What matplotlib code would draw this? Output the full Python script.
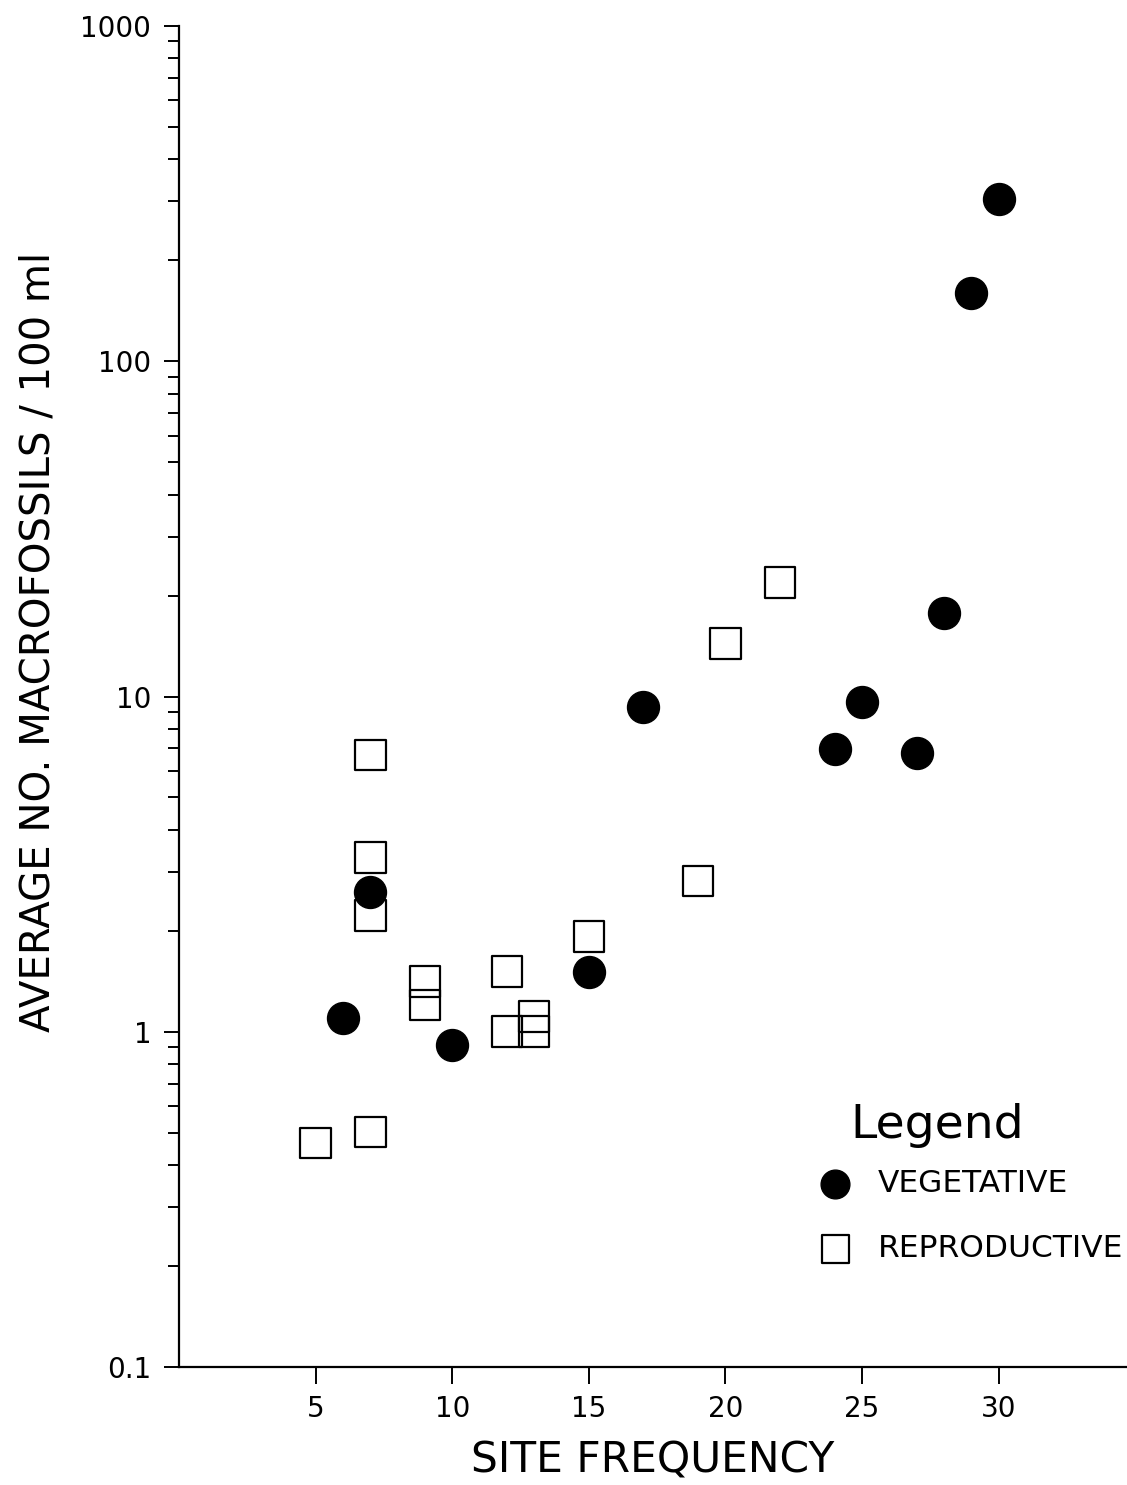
import matplotlib
matplotlib.use("Agg")
import matplotlib.pyplot as plt
from matplotlib.ticker import LogLocator, FixedLocator, FixedFormatter, NullFormatter

plt.rcParams['font.family'] = ['DejaVu Sans']

# Vegetative (filled circles)
veg_x = [30, 29, 28, 25, 24, 27, 17, 15, 10, 6, 7]
veg_y = [305, 160, 17.8, 9.6, 6.95, 6.8, 9.3, 1.51, 0.91, 1.10, 2.62]

# Reproductive (open squares)
rep_x = [22, 20, 19, 15, 12, 12, 13, 13, 9, 9, 7, 7, 7, 7, 5]
rep_y = [21.9, 14.4, 2.82, 1.92, 1.51, 1.0, 1.11, 1.0, 1.41, 1.20, 6.7, 3.31, 2.22, 0.503, 0.466]

x_ticks = [5, 10, 15, 20, 25, 30]
y_ticks = [0.1, 1, 10, 100, 1000]
y_labels = ["0.1", "1", "10", "100", "1000"]

W, H = 1127, 1485
fig = plt.figure(figsize=(W / 100, H / 100), dpi=100)
ax = fig.add_axes([179 / W, 1 - 1367 / H, 1 - 179 / W, (1367 - 26) / H])

ax.scatter(rep_x, rep_y, marker='s', s=22 ** 2, facecolors='none', edgecolors='black',
           linewidths=1.6, zorder=3, label='REPRODUCTIVE')
ax.scatter(veg_x, veg_y, marker='o', s=23 ** 2, color='black', zorder=4, label='VEGETATIVE')

ax.set_yscale('log')
ax.set_ylim(0.1, 1000)
ax.set_xlim(0, 34.7)

ax.spines['top'].set_visible(False)
ax.spines['right'].set_visible(False)
for s in ('left', 'bottom'):
    ax.spines[s].set_linewidth(1.6)

ax.xaxis.set_major_locator(FixedLocator(x_ticks))
ax.set_xticklabels([str(v) for v in x_ticks])
ax.yaxis.set_major_locator(FixedLocator(y_ticks))
ax.yaxis.set_major_formatter(FixedFormatter(y_labels))
ax.yaxis.set_minor_locator(LogLocator(base=10, subs=range(2, 10)))
ax.yaxis.set_minor_formatter(NullFormatter())

ax.tick_params(axis='x', which='major', direction='out', length=12, width=1.4,
               labelsize=20, pad=8)
ax.tick_params(axis='y', which='major', direction='out', length=11, width=1.4,
               labelsize=20, pad=9)
ax.tick_params(axis='y', which='minor', direction='out', length=8, width=1.4)

ax.set_xlabel('SITE FREQUENCY', fontsize=30.5, labelpad=12)
ax.set_ylabel('AVERAGE NO. MACROFOSSILS / 100 ml', fontsize=29)
ax.yaxis.set_label_coords(-0.1276, 0.541)

handles, labels = ax.get_legend_handles_labels()
leg = ax.legend(handles[::-1], labels[::-1], loc='upper left', bbox_to_anchor=(0.676, 0.1476),
                frameon=False, fontsize=22.5, handlelength=1.0, handletextpad=0.86,
                labelspacing=1.15, borderaxespad=0, borderpad=0, markerscale=0.9)

fig.text(850 / W, 1 - 1138 / H, 'Legend', fontsize=34, ha='left', va='baseline')

fig.savefig('out.png', dpi=100)
